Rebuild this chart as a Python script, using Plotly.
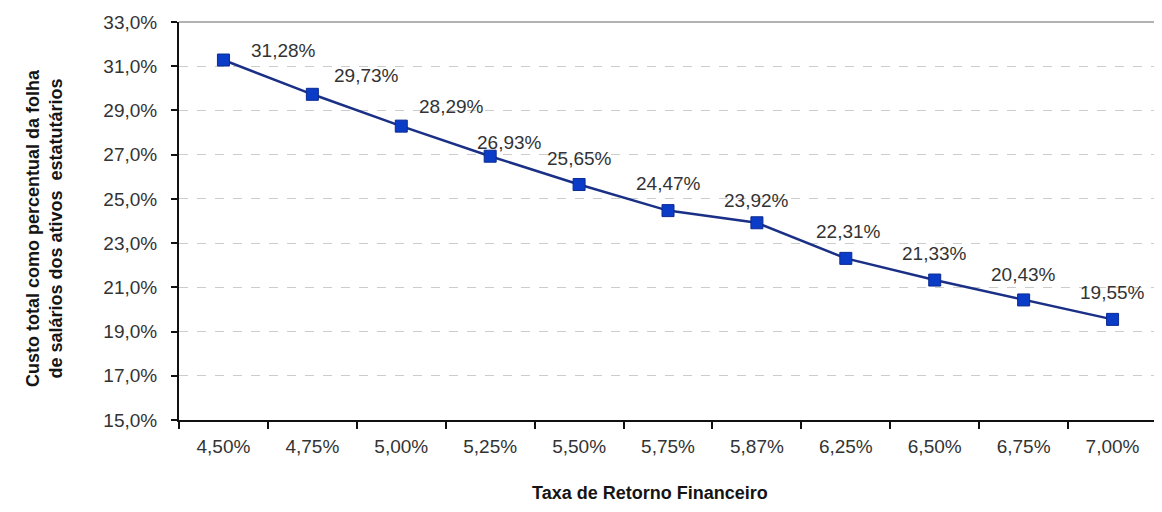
import plotly.graph_objects as go

# data
taxas = ["4,50%", "4,75%", "5,00%", "5,25%", "5,50%", "5,75%",
         "5,87%", "6,25%", "6,50%", "6,75%", "7,00%"]
custo = [31.28, 29.73, 28.29, 26.93, 25.65, 24.47,
         23.92, 22.31, 21.33, 20.43, 19.55]
rotulos = ["31,28%", "29,73%", "28,29%", "26,93%", "25,65%", "24,47%",
           "23,92%", "22,31%", "21,33%", "20,43%", "19,55%"]

# label offsets in pixels (style only)
label_dx = [60, 54, 50, 19, 0, 0, 0, 3, 0, 0, 0]
label_dy = [10, 19, 20, 14, 26, 27, 22, 27, 27, 25, 27]

font = "Liberation Sans, Arial, sans-serif"

# the page body adds 8px around the figure, so shrink and shift by 8
L, R, T, B = 171, 5, 14, 92
W, H = 1154, 504
pw, ph = W - L - R, H - T - B
OFF = 8

fig = go.Figure()

fig.add_trace(go.Scatter(
    x=taxas,
    y=custo,
    mode="lines+markers",
    line=dict(color="#1a2f86", width=2.5),
    marker=dict(symbol="square", size=12, color="#0a3cc8",
                line=dict(color="#0a2a90", width=1)),
    showlegend=False
))

# data labels
for x, y, t, dx, dy in zip(taxas, custo, rotulos, label_dx, label_dy):
    fig.add_annotation(
        x=x, y=y, text=t, showarrow=False,
        xshift=dx, yshift=dy,
        font=dict(family=font, size=19, color="#333333")
    )

# axis titles (positions given in screen pixels)
fig.add_annotation(
    text="<b>Custo total como percentual da folha<br>de salários dos ativos  estatutários</b>",
    xref="paper", yref="paper",
    x=(44 - OFF - L) / pw, y=(H - B - (228 - OFF)) / ph,
    xanchor="center", yanchor="middle",
    textangle=-90, showarrow=False,
    font=dict(family=font, size=18, color="#151515")
)
fig.add_annotation(
    text="<b>Taxa de Retorno Financeiro</b>",
    xref="paper", yref="paper",
    x=(650 - OFF - L) / pw, y=(H - B - (493 - OFF)) / ph,
    xanchor="center", yanchor="middle",
    showarrow=False,
    font=dict(family=font, size=18, color="#151515")
)

fig.update_layout(
    width=W,
    height=H,
    margin=dict(l=L, r=R, t=T, b=B),
    paper_bgcolor="white",
    plot_bgcolor="white",
    separators=",.",
    font=dict(family=font, size=19, color="#333333"),
    xaxis=dict(
        type="category",
        range=[-0.5, len(taxas) - 0.5],
        automargin=False,
        showline=True, linecolor="#111111", linewidth=2,
        ticks="outside", ticklen=7, tickcolor="#111111", tickwidth=1.5,
        tickson="boundaries",
        showgrid=False,
        tickfont=dict(size=19, color="#333333"),
        ticklabelstandoff=8,
    ),
    yaxis=dict(
        range=[15, 33],
        dtick=2,
        tick0=15,
        tickformat=".1f",
        ticksuffix="%",
        automargin=False,
        showline=True, linecolor="#111111", linewidth=2,
        ticks="outside", ticklen=6, tickcolor="#111111", tickwidth=1.5,
        showgrid=True, gridcolor="#cccccc", griddash="dash", gridwidth=1,
        zeroline=False,
        tickfont=dict(size=19, color="#333333"),
        ticklabelstandoff=10,
    ),
    shapes=[
        dict(type="line", xref="paper", yref="paper",
             x0=1, x1=1, y0=0, y1=1, line=dict(color="#999999", width=1.5)),
        dict(type="line", xref="paper", yref="paper",
             x0=0, x1=1, y0=1, y1=1, line=dict(color="#999999", width=1.5)),
    ]
)

fig.write_html("out.html")
